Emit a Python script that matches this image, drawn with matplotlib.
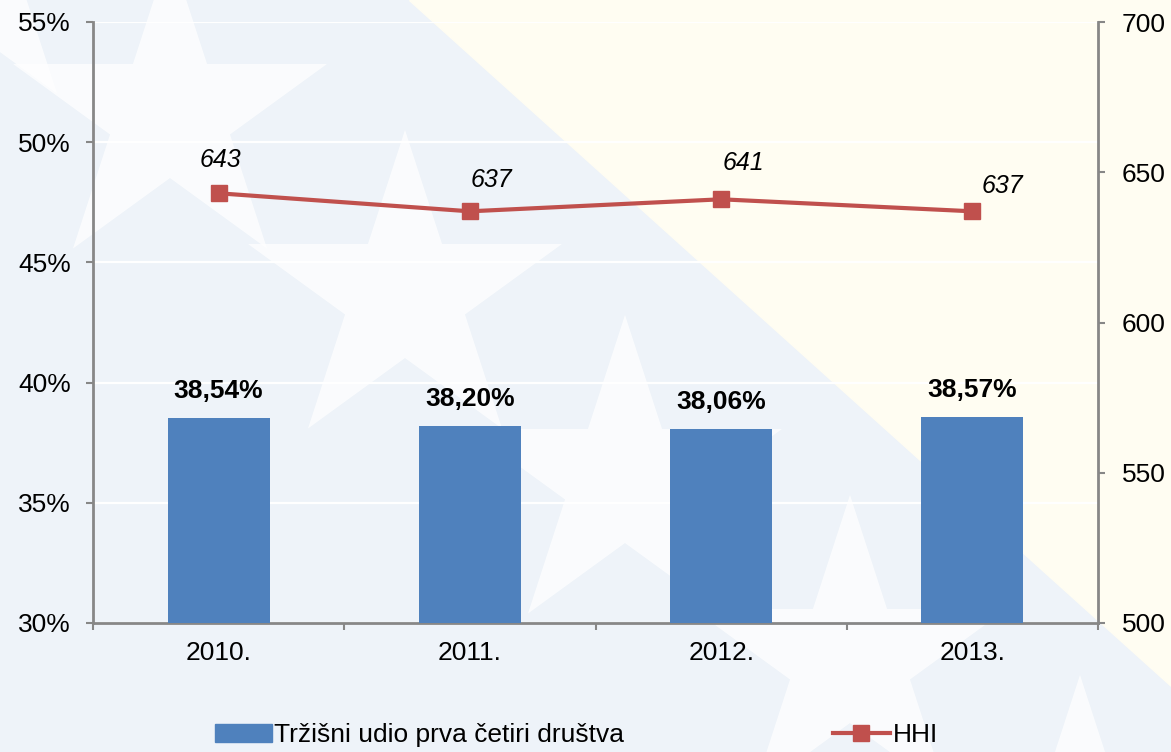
import matplotlib
matplotlib.use("Agg")
import matplotlib.pyplot as plt
import numpy as np
from matplotlib.patches import Polygon, Patch
from matplotlib.lines import Line2D
from matplotlib.ticker import FixedLocator

plt.rcParams['font.family'] = ['Liberation Sans', 'DejaVu Sans']

years = ['2010.', '2011.', '2012.', '2013.']
share = [38.54, 38.20, 38.06, 38.57]
share_labels = ['38,54%', '38,20%', '38,06%', '38,57%']
hhi = [643, 637, 641, 637]
hhi_offsets = [(2, 33), (22, 31), (22, 36), (30, 25)]  # label offsets in px

BAR_COLOR = '#4F81BD'
LINE_COLOR = '#C0504D'
SPINE = '#878787'

W, H = 1171, 752
fig = plt.figure(figsize=(W / 100, H / 100), dpi=100)

# watermark background (flag-like), in pixel coordinates
bg = fig.add_axes([0, 0, 1, 1], zorder=-10)
bg.set_xlim(0, W)
bg.set_ylim(H, 0)
bg.axis('off')
bg.add_patch(Polygon([(0, 0), (W, 0), (W, H), (0, H)], color='#EEF3F9'))
bg.add_patch(Polygon([(409, 0), (W, 0), (W, 686)], color='#FFFDF2'))


def star(cx, cy, r):
    pts = []
    for k in range(10):
        ang = np.pi / 2 + k * np.pi / 5
        rr = r if k % 2 == 0 else r * 0.382
        pts.append((cx + rr * np.cos(ang), cy - rr * np.sin(ang)))
    return pts


for cx, cy in [(170, 115), (405, 295), (625, 480), (850, 660), (-40, -40), (1080, 840)]:
    bg.add_patch(Polygon(star(cx, cy, 165), color='white', alpha=0.75, lw=0))

ax = fig.add_axes([93 / W, 1 - 623 / H, (1098 - 93) / W, (623 - 22) / H])
ax.patch.set_alpha(0)
x = np.arange(len(years))

ax.bar(x, share, width=0.405, color=BAR_COLOR, zorder=3)
ax.set_ylim(30, 55)
ax.set_xlim(-0.5, len(years) - 0.5)
ax.set_yticks(np.arange(30, 56, 5))
ax.set_yticklabels([f'{v}%' for v in range(30, 56, 5)])
ax.yaxis.grid(True, color='white', lw=1.6, zorder=0)
ax.set_axisbelow(True)

ax.xaxis.set_major_locator(FixedLocator(np.arange(-0.5, len(years), 1.0)))
ax.xaxis.set_minor_locator(FixedLocator(x))
ax.set_xticklabels([], minor=False)
ax.set_xticklabels(years, minor=True)
ax.tick_params(axis='x', which='minor', length=0, pad=13, labelsize=19)
ax.tick_params(axis='x', which='major', length=5, width=1.5, color=SPINE)
ax.tick_params(axis='y', length=5, width=1.5, color=SPINE, pad=11, labelsize=19)

for s in ['top', 'right']:
    ax.spines[s].set_visible(False)
for s in ['left', 'bottom']:
    ax.spines[s].set_color(SPINE)
    ax.spines[s].set_linewidth(2)

for xi, v, lab in zip(x, share, share_labels):
    ax.annotate(lab, (xi, v), xytext=(0, 27), textcoords='offset pixels',
                ha='center', va='center', fontsize=19, fontweight='bold')

ax2 = ax.twinx()
ax2.set_ylim(500, 700)
ax2.set_yticks(np.arange(500, 701, 50))
ax2.plot(x, hhi, color=LINE_COLOR, lw=3, marker='s', markersize=12, zorder=4)
ax2.tick_params(axis='y', length=5, width=1.5, color=SPINE, pad=12, labelsize=19)
for s in ['top', 'left', 'bottom']:
    ax2.spines[s].set_visible(False)
ax2.spines['right'].set_color(SPINE)
ax2.spines['right'].set_linewidth(2)

for xi, v, off in zip(x, hhi, hhi_offsets):
    ax2.annotate(str(v), (xi, v), xytext=off, textcoords='offset pixels',
                 ha='center', va='center', fontsize=18, fontstyle='italic')

handles = [Patch(color=BAR_COLOR),
           Line2D([], [], color=LINE_COLOR, lw=3, marker='s', markersize=12)]
fig.legend(handles, ['Tržišni udio prva četiri društva', 'HHI'],
           loc='center', bbox_to_anchor=(0.492, 1 - 735 / H), ncol=2,
           frameon=False, fontsize=19, handlelength=2.16, handletextpad=0.1,
           columnspacing=7.9, handleheight=0.7)

fig.savefig('out.png', dpi=100)
